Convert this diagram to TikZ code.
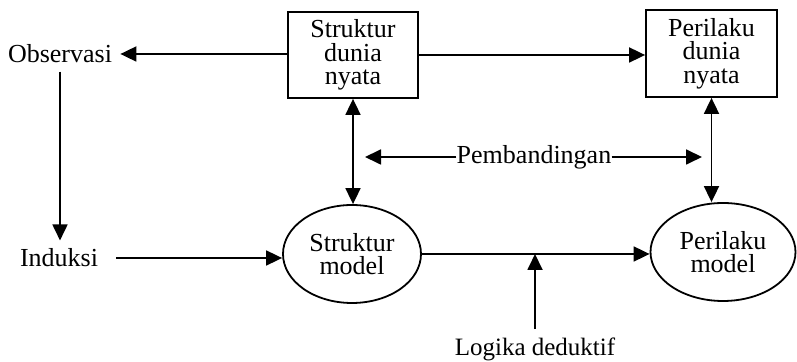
\documentclass[tikz,border=0pt]{standalone}
\usepackage{fontspec}
\setmainfont{Liberation Serif}
\usetikzlibrary{shapes.geometric}
\usetikzlibrary{arrows.meta}

\begin{document}
\begin{tikzpicture}[x=0.5pt, y=-0.5pt,
    every node/.style={font=\fontsize{13}{11.75}\selectfont, align=center},
    realbox/.style={draw, line width=0.9pt, inner sep=2pt},
    modelell/.style={draw, ellipse, line width=0.9pt, minimum height=49pt, inner sep=1pt},
    word/.style={inner sep=4pt},
    arr/.style={line width=0.9pt, -{Triangle[length=8pt, width=7.5pt]}},
    darr/.style={line width=0.9pt, {Triangle[length=8pt, width=7.5pt]}-{Triangle[length=8pt, width=7.5pt]}}]
%%% system / model comparison %%%
\useasboundingbox (0,0) rectangle (797,362);

      %% real world
      \node[realbox, minimum width=65pt, minimum height=43pt] (sdn) at (353,55) {Struktur\\ dunia\\ nyata};
      \node[realbox, minimum width=65.5pt, minimum height=43.5pt] (pdn) at (711.5,53.5) {Perilaku\\ dunia\\ nyata};
      %
      \node[word] (obs) at (60,54) {Observasi};
      \node[word] (ind) at (59,258) {Induksi};

      %% model
      \node[modelell, minimum width=69pt] (sm) at (352,254) {Struktur\\ model};
      \node[modelell, minimum width=72.5pt] (pm) at (723,252) {Perilaku\\ model};
      %
      \node[inner sep=0pt] (pemb) at (534,157) {Pembandingan};
      \node[word, font=\fontsize{12.5}{12}\selectfont] (ldk) at (535,349) {Logika deduktif};
      \coordinate (pl) at (365,157);
      \coordinate (pr) at (702,157);

      %% connectors
      \draw[arr] (sdn.west |- obs.east) -- (obs.east);
      \draw[arr] (sdn.east) -- (sdn.east -| pdn.west);
      \draw[arr] (obs.south) -- (obs.south |- ind.north);
      \draw[arr, shorten <=5pt] (ind.east) -- (ind.east -| sm.west);
      \draw[arr] (sm.east) -- (sm.east -| pm.west);
      %
      \draw[darr] (sdn.south) -- (sdn.south |- sm.north);
      \draw[darr] (pdn.south) -- (pdn.south |- pm.north);
      %
      \draw[arr] (pemb.west) -- (pl);
      \draw[arr] (pemb.east) -- (pr);
      \draw[arr] (ldk.north) -- (ldk.north |- sm.east);

\end{tikzpicture}
\end{document}
